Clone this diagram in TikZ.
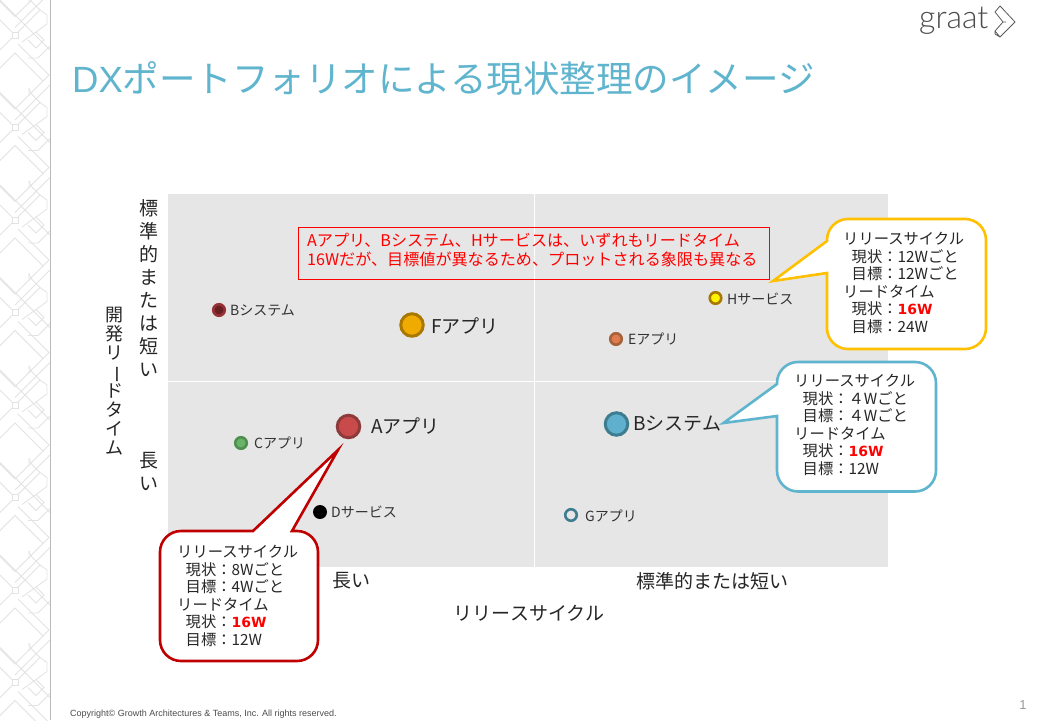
\documentclass[tikz,border=0pt]{standalone}
\usepackage{fontspec}
\usepackage{graphicx}
\setmainfont{Noto Sans CJK JP}
\newfontfamily\logofont{Lato Light}
\newfontfamily\latinfont{Liberation Sans}
\newfontfamily\hotfont{DejaVu Sans}
\definecolor{teal1}{HTML}{5FB4CE}
\definecolor{bggray}{HTML}{E6E6E6}
\definecolor{calred}{HTML}{C00000}
\definecolor{calyel}{HTML}{FFC000}
\newcommand{\vbar}{\smash{\rotatebox[origin=c]{-90}{ー}}}
\newcommand{\fs}[2]{\fontsize{#1}{#2}\selectfont}
\newcommand{\hot}[1]{\textbf{\textcolor{red}{\hotfont\fs{14}{17.5}#1}}}
\tikzset{
  x=1pt,y=-1pt,
  dotbig/.style={circle,inner sep=0pt,minimum size=22.5pt,line width=3pt},
  dotsmall/.style={circle,inner sep=0pt,minimum size=11.5pt,line width=2.6pt},
  lblbig/.style={anchor=west,inner sep=0pt,font=\fs{19}{21},text=black!85},
  lblsmall/.style={anchor=west,inner sep=0pt,font=\fs{14}{16},text=black!80},
  axis/.style={inner sep=0pt,font=\fs{19}{21},text=black!85},
  calloutshape/.style={fill=white,line width=2.6pt,line join=miter},
  callouttext/.style={anchor=north west,inner sep=0pt,align=left,font=\fs{15.3}{17.5},text=black!85},
  lattice/.style={draw=black!11,line width=.8pt}
}
\begin{document}
\begin{tikzpicture}
\useasboundingbox (0,0) rectangle (1040,720);
\fill[white] (0,0) rectangle (1040,720);
% side pattern
\begin{scope}
\clip (0,0) rectangle (50,720);
\foreach \k in {-1,0,...,8}{
  \begin{scope}[shift={(0,{\k*92.5})}]
    \draw[lattice] (0,0)--(50,50);
    \draw[lattice] (12,32) rectangle (18,38);
    \draw[lattice] (0,20)--(12,32) (0,50)--(12,38);
    \draw[lattice] (18,32)--(40,10)--(47,15)--(47,24)--(36,32)--(22,42);
    \draw[lattice] (36,32)--(44,40)--(36,48)--(28,40);
    \draw[lattice] (40,10)--(31,1)--(29,-4);
    \draw[lattice] (18,44)--(49,75)--(43,81);
    \draw[lattice] (15,53)--(43,81)--(15,109)--(-13,81)--cycle;
    \draw[lattice] (50,85)--(28,107)--(15,120);
    \draw[lattice] (29,88)--(29,96) (50,46)--(38,58)--(28,58);
  \end{scope}
}
\end{scope}
\draw[line width=1pt,black!27] (50.5,0)--(50.5,720);
% title
\node[anchor=west,inner sep=0pt,text=teal1,font=\fs{36.5}{40}] (title) at (72,78.5) {{\latinfont DX}ポートフォリオによる現状整理のイメージ};
% logo
\node[anchor=west,inner sep=0pt,text=black!70,font=\logofont\fs{32}{34}] (logo) at (919,21) {graat};
\draw[black!65,line width=.8pt,line join=round] (995,12)--(1000,6)--(1015,22)--(1000,37)--(995,31)--(1003,22)--cycle (995,31)--(995,34)--(1000,37) (1000,6)--(1003,9)(1003,22)--(1006,22);
% quadrant background
\fill[bggray] (168,194) rectangle (888,567);
\draw[white,line width=1pt] (534,194)--(534,567) (168,381.5)--(888,381.5);
% note
\node[draw=red,line width=.8pt,inner sep=0pt,minimum width=471pt,minimum height=52pt,anchor=north west] (notebox) at (298,227) {};
\node[anchor=west,inner sep=0pt,align=left,text=red,font=\fs{16.1}{19}] (note) at (307,250) {Aアプリ、Bシステム、Hサービスは、いずれもリードタイム\\16Wだが、目標値が異なるため、プロットされる象限も異なる};
% axes
\node[axis,align=center,font=\fs{19}{23}] (yhigh) at (149,288) {標\\準\\的\\ま\\た\\は\\短\\い};
\node[axis,align=center,font=\fs{19}{23}] (ylow) at (149,471) {長\\い};
\node[axis,align=center,font=\fs{18}{19}] (ytitle) at (114,381) {開\\発\\リ\\\vbar\\ド\\タ\\イ\\ム};
\node[axis] (xlow) at (351,581) {長い};
\node[axis] (xhigh) at (712,581) {標準的または短い};
\node[axis] (xtitle) at (529,613) {リリースサイクル};
% points
\definecolor{d1}{HTML}{6B1F22}\definecolor{d1s}{HTML}{963136}
\definecolor{d2}{HTML}{F0AB00}\definecolor{d2s}{HTML}{A87800}
\definecolor{d3}{HTML}{E07B50}\definecolor{d3s}{HTML}{A8623A}
\definecolor{d4}{HTML}{6AB46A}\definecolor{d4s}{HTML}{4F8F4F}
\definecolor{d5}{HTML}{C94A4A}\definecolor{d5s}{HTML}{8E3A3A}
\definecolor{d6}{HTML}{5FB0CC}\definecolor{d6s}{HTML}{3E7C90}
\node[dotsmall,fill=d1,draw=d1s] (pB2) at (219,310) {};
\node[lblsmall] (lB2) at (230,310) {Bシステム};
\node[dotbig,fill=d2,draw=d2s] (pF) at (412,325) {};
\node[lblbig] (lF) at (431,326) {Fアプリ};
\node[dotsmall,fill=d3,draw=d3s] (pE) at (616,339) {};
\node[lblsmall] (lE) at (628,339) {Eアプリ};
\node[dotsmall,fill=yellow,draw=d2s] (pH) at (715.5,298) {};
\node[lblsmall] (lH) at (727,299) {Hサービス};
\node[dotsmall,fill=d4,draw=d4s] (pC) at (241,443) {};
\node[lblsmall] (lC) at (254,443) {Cアプリ};
\node[dotbig,fill=d5,draw=d5s] (pA) at (348.5,426.5) {};
\node[lblbig] (lA) at (371,426) {Aアプリ};
\node[dotbig,fill=d6,draw=d6s] (pBig) at (616.5,424) {};
\node[lblbig] (lBig) at (633,424) {Bシステム};
\node[circle,fill=black,inner sep=0pt,minimum size=14pt] (pD) at (320,512) {};
\node[lblsmall] (lD) at (331,512.5) {Dサービス};
\node[dotsmall,fill=bggray,draw=d6s] (pG) at (571,515) {};
\node[lblsmall] (lG) at (585,515.5) {Gアプリ};
% callouts
\coordinate (tipA) at (338,450);
\coordinate (tipB) at (723.5,423);
\coordinate (tipH) at (773,281);
\draw[calloutshape,draw=calred] (292,531) [rounded corners=21pt] -- (318,531) -- (318,661) -- (160,661) -- (160,531) -- (210,531) [sharp corners] -- (253,531) -- (tipA) -- cycle;
\draw[calloutshape,draw=calyel] (827,241) [rounded corners=21pt] -- (827,219) -- (986,219) -- (986,349) -- (827,349) -- (827,310) [sharp corners] -- (827,273) -- (tipH) -- cycle;
\draw[calloutshape,draw=teal1] (777,384) [rounded corners=21pt] -- (777,362) -- (936,362) -- (936,491.5) -- (777,491.5) -- (777,450) [sharp corners] -- (777,416) -- (tipB) -- cycle;
\node[callouttext] (tA) at (177,545) {リリースサイクル\\\hspace*{8.5pt}現状：8Wごと\\\hspace*{8.5pt}目標：4Wごと\\リードタイム\\\hspace*{8.5pt}現状：\hot{16W}\\\hspace*{8.5pt}目標：12W};
\node[callouttext] (tH) at (843,232) {リリースサイクル\\\hspace*{8.5pt}現状：12Wごと\\\hspace*{8.5pt}目標：12Wごと\\リードタイム\\\hspace*{8.5pt}現状：\hot{16W}\\\hspace*{8.5pt}目標：24W};
\node[callouttext] (tB) at (794,374) {リリースサイクル\\\hspace*{8.5pt}現状：４Wごと\\\hspace*{8.5pt}目標：４Wごと\\リードタイム\\\hspace*{8.5pt}現状：\hot{16W}\\\hspace*{8.5pt}目標：12W};
% footer
\node[anchor=west,inner sep=0pt,text=black!70,font=\latinfont\fs{9}{10}] (copy) at (70,714) {Copyright© Growth Architectures \& Teams, Inc. All rights reserved.};
\node[inner sep=0pt,text=black!40,font=\latinfont\fs{13}{14}] (page) at (1023,705) {1};
\end{tikzpicture}
\end{document}
